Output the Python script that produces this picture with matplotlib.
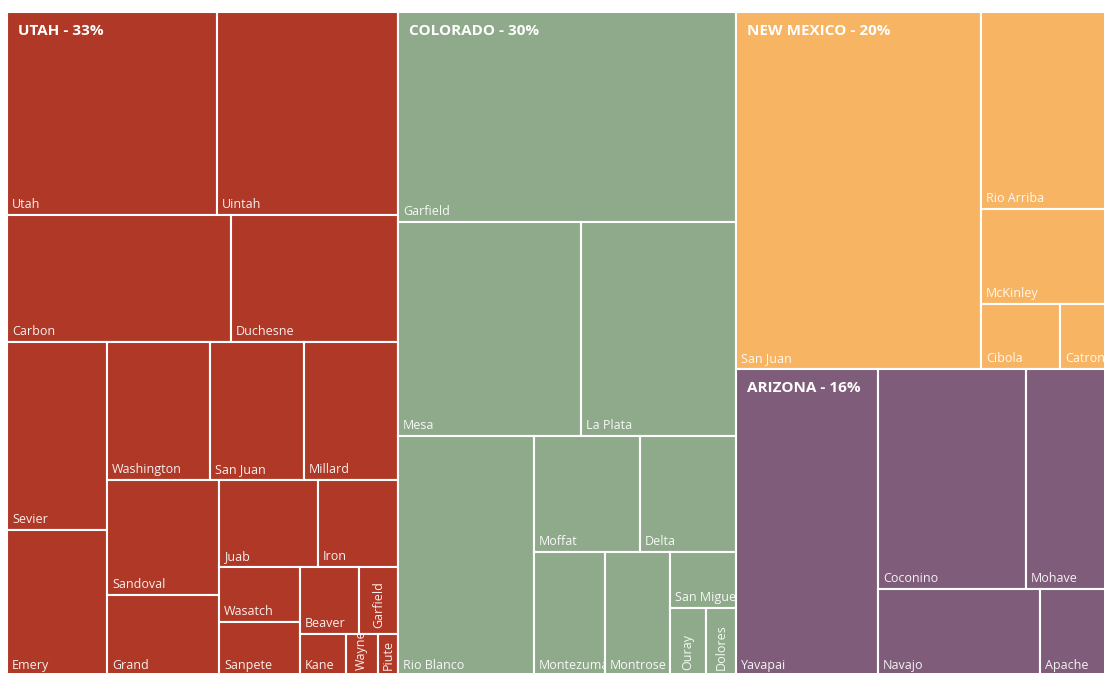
import matplotlib.pyplot as plt
from matplotlib.patches import Rectangle
from matplotlib.transforms import Bbox

plt.rcParams["font.family"] = ["Open Sans", "DejaVu Sans"]

# States (top level) - labels as printed on the chart
states = ["UTAH", "COLORADO", "NEW MEXICO", "ARIZONA"]
state_pct = [33, 30, 20, 16]
state_colors = ["#B03826", "#8FAA8B", "#F7B462", "#7F5C79"]
state_rows = [1, 1, 1, 1]

# Counties and their sizes, with the strip grouping
utah_counties = ["Utah", "Uintah", "Carbon", "Duchesne", "Sevier", "Emery",
                 "Washington", "San Juan", "Millard", "Sandoval", "Grand",
                 "Juab", "Iron", "Wasatch", "Sanpete", "Beaver", "Garfield",
                 "Kane", "Wayne", "Piute"]
utah_values = [4263, 3674, 2845, 2121, 1880, 1460, 1421, 1297, 1297, 1288,
               907, 861, 696, 446, 437, 395, 261, 189, 134, 84]
utah_rows = [2, 2, 2, 3, 2, 2, 2, 2, 1, 1, 1]

colorado_counties = ["Garfield", "Mesa", "La Plata", "Rio Blanco", "Moffat",
                     "Delta", "Montezuma", "Montrose", "San Miguel", "Ouray",
                     "Dolores"]
colorado_values = [7098, 3916, 3317, 3264, 1230, 1114, 880, 806, 370, 245, 204]
colorado_rows = [1, 2, 1, 2, 1, 1, 1, 2]

nm_counties = ["San Juan", "Rio Arriba", "McKinley", "Cibola", "Catron"]
nm_values = [8747, 2581, 1245, 514, 338]
nm_rows = [1, 1, 1, 1, 1]

az_counties = ["Yavapai", "Coconino", "Mohave", "Navajo", "Apache"]
az_values = [4359, 3256, 1892, 1409, 626]
az_rows = [1, 2, 1, 1]

counties = [utah_counties, colorado_counties, nm_counties, az_counties]
values = [utah_values, colorado_values, nm_values, az_values]
rows = [utah_rows, colorado_rows, nm_rows, az_rows]


def strips(vals, row_sizes, x0, y0, x1, y1):
    """Squarified-style layout: each strip runs along the shorter side of what is left."""
    boxes = []
    remaining = float(sum(vals))
    i = 0
    for n in row_sizes:
        row = vals[i:i + n]
        s = sum(row)
        w, h = x1 - x0, y1 - y0
        if w >= h:  # column on the left, cells stacked downwards
            xe = x0 + w * s / remaining
            y = y0
            for v in row:
                ye = y + h * v / s
                boxes.append((x0, y, xe, ye))
                y = ye
            x0 = xe
        else:  # strip along the top, cells left to right
            ye = y0 + h * s / remaining
            x = x0
            for v in row:
                xe = x + w * v / s
                boxes.append((x, y0, xe, ye))
                x = xe
            y0 = ye
        remaining -= s
        i += n
    return boxes


fig = plt.figure(figsize=(11.04, 6.73), dpi=100)
ax = fig.add_axes([0, 0, 1, 1])
ax.set_xlim(0, 1104)
ax.set_ylim(673, 0)
ax.axis("off")


def clip_for(box):
    (ax0, ay0), (ax1, ay1) = ax.transData.transform([(box[0], box[1]), (box[2], box[3])])
    return Bbox.from_extents(min(ax0, ax1), min(ay0, ay1), max(ax0, ax1), max(ay0, ay1))


totals = [sum(v) for v in values]
state_boxes = strips(totals, state_rows, 7, 12, 1112, 676)

for s, sbox in enumerate(state_boxes):
    leaf_boxes = strips(values[s], rows[s], *sbox)
    for name, (x0, y0, x1, y1) in zip(counties[s], leaf_boxes):
        ax.add_patch(Rectangle((x0, y0), x1 - x0, y1 - y0, facecolor=state_colors[s],
                               edgecolor="white", linewidth=1.5))
        w, h = x1 - x0, y1 - y0
        if w < 42 and h > w:
            t = ax.text((x0 + x1) / 2, y1 - 6, name, rotation=90, ha="center", va="bottom",
                        color="white", alpha=0.92, fontsize=9)
        else:
            t = ax.text(x0 + 5, y1 - 7, name, ha="left", va="baseline",
                        color="white", alpha=0.92, fontsize=9)
        t.set_clip_box(clip_for((x0, y0, x1, y1)))
        t.set_clip_on(True)
    ax.text(sbox[0] + 11, sbox[1] + 19, f"{states[s]} - {state_pct[s]}%", ha="left",
            va="center", color="white", fontsize=11, fontweight="bold", zorder=5)

fig.savefig("out.png", dpi=100)
